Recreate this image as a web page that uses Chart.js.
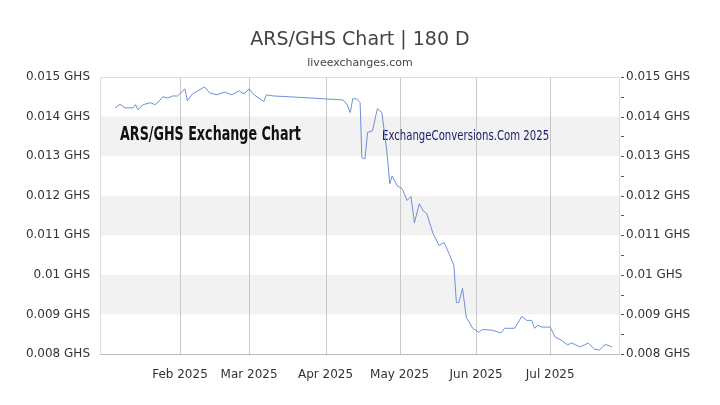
<!DOCTYPE html>
<html><head><meta charset="utf-8">
<script src="https://cdn.jsdelivr.net/npm/chart.js@4"></script>
<style>html,body{margin:0;padding:0;background:#fff}#wrap{width:720px;height:405px}</style>
</head><body><div id="wrap"><canvas id="c"></canvas></div>
<script>
const days = [4.7,6.7,8.7,12,13,14,16,19,21,23,24,26,28,30,33,34,36,41,43,46,49,52,55,57,59,61,65,66,69,75.5,97,98.6,100,101,102.6,104,104.7,106,107,109,111,112.8,114.8,116,117,119,121,123,124.6,126,128,129.5,131,133.5,136,138,140,142,143,144,145.5,147,149.6,152,153.7,157.7,161,162.6,166.6,169.5,171.5,173.5,174.7,176,177.6,181,183,186,188,189.7,193,195,196.4,199,201,203,204,206];
const rates = [0.01422,0.01431,0.01422,0.01422,0.0143,0.01417,0.0143,0.01435,0.0143,0.01442,0.0145,0.01447,0.01452,0.01452,0.0147,0.0144,0.01457,0.01475,0.0146,0.01455,0.01462,0.01455,0.01465,0.01457,0.0147,0.01455,0.01438,0.01455,0.01452,0.0145,0.01442,0.01432,0.0141,0.01445,0.01445,0.01435,0.01296,0.01293,0.0136,0.01364,0.0142,0.0141,0.01314,0.0123,0.0125,0.01225,0.01218,0.01188,0.01198,0.01132,0.0118,0.01162,0.01155,0.01105,0.01074,0.01082,0.01054,0.01024,0.0093,0.0093,0.00966,0.00893,0.00865,0.00855,0.00862,0.0086,0.00853,0.00865,0.00865,0.00895,0.00885,0.00885,0.00865,0.00873,0.00868,0.00868,0.00843,0.00833,0.00823,0.00828,0.00818,0.00823,0.00828,0.00812,0.0081,0.00823,0.00823,0.00818];
const monthDays = [31,59,90,120,151,181];
const monthLabels = ['Feb 2025','Mar 2025','Apr 2025','May 2025','Jun 2025','Jul 2025'];
const yTicks = [0.008,0.009,0.01,0.011,0.012,0.013,0.014,0.015];
const bands = [[0.013,0.014],[0.011,0.012],[0.009,0.010]];
const fmt = v => parseFloat(v.toFixed(3)).toString() + ' GHS';

const deco = {
  id:'deco',
  beforeDatasetsDraw(ch){
    const {ctx, chartArea:a, scales:{y}} = ch;
    ctx.save();
    ctx.fillStyle = '#f2f2f2';
    bands.forEach(b=>{const t=y.getPixelForValue(b[1]), bt=y.getPixelForValue(b[0]); ctx.fillRect(a.left,t,a.right-a.left,bt-t);});
    ctx.strokeStyle='#c8c8c8'; ctx.lineWidth=1;
    monthDays.forEach(d=>{const x=Math.round(ch.scales.x.getPixelForValue(d))+0.5; ctx.beginPath(); ctx.moveTo(x,a.top); ctx.lineTo(x,a.bottom); ctx.stroke();});
    ctx.strokeStyle='#dddddd';
    ctx.beginPath(); ctx.moveTo(a.left+0.5,a.bottom); ctx.lineTo(a.left+0.5,a.top+0.5); ctx.lineTo(a.right-0.5,a.top+0.5); ctx.lineTo(a.right-0.5,a.bottom); ctx.stroke();
    ctx.strokeStyle='#bbbbbb';
    ctx.beginPath(); ctx.moveTo(a.left,a.bottom+0.5); ctx.lineTo(a.right,a.bottom+0.5); ctx.stroke();
    ctx.strokeStyle='#555';
    for(let v=0.008; v<=0.0151; v+=0.0005){const yy=Math.round(y.getPixelForValue(v))+0.5; ctx.beginPath(); ctx.moveTo(a.right+1,yy); ctx.lineTo(a.right+4,yy); ctx.stroke();}
    ctx.fillStyle='#111';
    ctx.font='bold 19px "DejaVu Sans"';
    ctx.textBaseline='middle';
    ctx.save(); ctx.translate(120,135); ctx.scale(0.67,1.05); ctx.fillText('ARS/GHS Exchange Chart',0,0); ctx.restore();
    ctx.fillStyle='#1a1a6e';
    ctx.font='13px "DejaVu Sans"';
    ctx.save(); ctx.translate(382,136); ctx.scale(0.78,1.05); ctx.fillText('ExchangeConversions.Com 2025',0,0); ctx.restore();
    ctx.restore();
  },
  afterDraw(ch){
    const ctx=ch.ctx; ctx.save();
    ctx.textAlign='center'; ctx.textBaseline='middle';
    ctx.fillStyle='#444'; ctx.font='19px "DejaVu Sans"';
    ctx.fillText('ARS/GHS Chart | 180 D',360,40);
    ctx.fillStyle='#444'; ctx.font='11px "DejaVu Sans"';
    ctx.fillText('liveexchanges.com',360,63);
    ctx.restore();
  }
};

new Chart(document.getElementById('c'),{
  type:'line',
  data:{datasets:[{data:days.map((d,i)=>({x:d,y:rates[i]})),borderColor:'#6d90d8',borderWidth:1,pointRadius:0,tension:0,fill:false}]},
  options:{
    responsive:true,maintainAspectRatio:false,animation:false,
    layout:{padding:{top:77,bottom:0,left:0,right:0}},
    plugins:{legend:{display:false},tooltip:{enabled:false}},
    scales:{
      x:{type:'linear',min:-1.4,max:209.3,
        afterBuildTicks(s){s.ticks=monthDays.map(v=>({value:v}));},
        ticks:{autoSkip:false,maxRotation:0,color:'#333',font:{family:'DejaVu Sans',size:12},padding:6,callback:(v,i)=>monthLabels[i]},
        grid:{display:false},border:{display:false},
        afterFit(s){s.height=51;}},
      y:{position:'left',min:0.008,max:0.015,
        afterBuildTicks(s){s.ticks=yTicks.map(v=>({value:v}));},
        ticks:{color:'#333',font:{family:'DejaVu Sans',size:12},padding:2,callback:v=>fmt(v)},
        grid:{display:false},border:{display:false},
        afterFit(s){s.width=100;}},
      y2:{position:'right',min:0.008,max:0.015,
        afterBuildTicks(s){s.ticks=yTicks.map(v=>({value:v}));},
        ticks:{color:'#333',font:{family:'DejaVu Sans',size:12},padding:-2,callback:v=>fmt(v)},
        grid:{display:false},border:{display:false},
        afterFit(s){s.width=100;}}
    }
  },
  plugins:[deco]
});
</script></body></html>
